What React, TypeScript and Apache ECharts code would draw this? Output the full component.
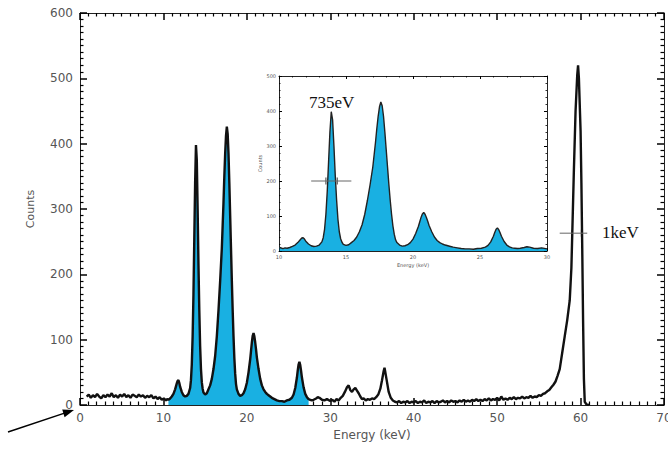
import React, { useEffect, useRef } from "react";
import * as echarts from "echarts";

// Spectrum: [energy keV, counts]
const lowBand: number[][] = [
  [0.8, 13], [1.05, 16], [1.3, 11], [1.55, 15], [1.8, 12], [2.05, 17], [2.3, 13], [2.55, 10], [2.8, 15], [3.05, 12],
  [3.3, 16], [3.55, 13], [3.8, 18], [4.05, 12], [4.3, 15], [4.55, 11], [4.8, 16], [5.05, 13], [5.3, 17], [5.55, 12],
  [5.8, 15], [6.05, 11], [6.3, 16], [6.55, 14], [6.8, 12], [7.05, 16], [7.3, 13], [7.55, 15], [7.8, 11], [8.05, 14],
  [8.3, 12], [8.55, 15], [8.8, 10], [9.05, 13], [9.3, 9], [9.55, 12], [9.8, 8], [10.05, 10], [10.3, 7], [10.45, 9],
];
const peakBand: number[][] = [
  [10.6, 8], [10.8, 10], [11.0, 13], [11.2, 17], [11.4, 24], [11.6, 33], [11.7, 37], [11.8, 38], [11.9, 34], [12.0, 28],
  [12.2, 20], [12.4, 15], [12.6, 13], [12.8, 14], [13.0, 17], [13.2, 26], [13.3, 38], [13.4, 62], [13.5, 105], [13.6, 170],
  [13.7, 255], [13.8, 340], [13.9, 398], [14.0, 375], [14.1, 300], [14.2, 215], [14.3, 145], [14.4, 90], [14.5, 55], [14.6, 35],
  [14.7, 25], [14.8, 19], [15.0, 16], [15.2, 18], [15.4, 24], [15.6, 30], [15.8, 40], [16.0, 55], [16.2, 75], [16.4, 105],
  [16.6, 145], [16.8, 190], [17.0, 240], [17.1, 275], [17.2, 310], [17.3, 350], [17.4, 385], [17.5, 412], [17.6, 426], [17.7, 415],
  [17.8, 385], [17.9, 340], [18.0, 290], [18.1, 240], [18.2, 190], [18.3, 145], [18.4, 105], [18.5, 72], [18.6, 48], [18.7, 32],
  [18.8, 24], [19.0, 17], [19.2, 14], [19.4, 15], [19.6, 18], [19.8, 24], [20.0, 34], [20.2, 50], [20.4, 70], [20.5, 83],
  [20.6, 96], [20.7, 106], [20.8, 110], [20.9, 105], [21.0, 96], [21.1, 85], [21.2, 73], [21.4, 55], [21.6, 40], [21.8, 30],
  [22.0, 24], [22.2, 20], [22.4, 17], [22.6, 15], [22.8, 13], [23.0, 11], [23.3, 9], [23.6, 7], [23.9, 6], [24.2, 6],
  [24.5, 5], [24.8, 7], [25.1, 8], [25.4, 11], [25.6, 16], [25.8, 26], [26.0, 42], [26.1, 53], [26.2, 62], [26.3, 66],
  [26.4, 61], [26.5, 52], [26.6, 42], [26.8, 27], [27.0, 17], [27.2, 12], [27.4, 9], [27.6, 8], [27.8, 7], [28.0, 8],
  [28.3, 10], [28.5, 12], [28.7, 11], [29.0, 8], [29.3, 7], [29.6, 9], [30.0, 6],
];
const highBand: number[][] = [
  [30.25, 8], [30.5, 5], [30.75, 9], [31.0, 7], [31.25, 11], [31.5, 14], [31.75, 20], [32.0, 27], [32.2, 30], [32.4, 23],
  [32.6, 20], [32.8, 24], [33.0, 26], [33.2, 22], [33.4, 18], [33.6, 13], [33.8, 9], [34.0, 10], [34.25, 7], [34.5, 9],
  [34.75, 8], [35.0, 10], [35.25, 9], [35.5, 12], [35.75, 16], [36.0, 25], [36.2, 38], [36.4, 52], [36.5, 57], [36.6, 50],
  [36.8, 35], [37.0, 20], [37.25, 11], [37.5, 7], [37.75, 5], [38.0, 4], [38.25, 6], [38.5, 3], [38.75, 5], [39.0, 4],
  [39.25, 6], [39.5, 3], [39.75, 5], [40.0, 4], [40.25, 6], [40.5, 3], [40.75, 5], [41.0, 4], [41.25, 7], [41.5, 3],
  [41.75, 5], [42.0, 4], [42.25, 6], [42.5, 3], [42.75, 6], [43.0, 4], [43.25, 5], [43.5, 7], [43.75, 4], [44.0, 6],
  [44.25, 4], [44.5, 7], [44.75, 5], [45.0, 6], [45.25, 4], [45.5, 7], [45.75, 5], [46.0, 8], [46.25, 5], [46.5, 7],
  [46.75, 5], [47.0, 8], [47.25, 6], [47.5, 9], [47.75, 6], [48.0, 8], [48.25, 6], [48.5, 9], [48.75, 7], [49.0, 10],
  [49.25, 7], [49.5, 9], [49.75, 8], [50.0, 11], [50.25, 7], [50.5, 13], [50.75, 8], [51.0, 10], [51.25, 8], [51.5, 11],
  [51.75, 9], [52.0, 12], [52.25, 9], [52.5, 11], [52.75, 10], [53.0, 13], [53.25, 10], [53.5, 12], [53.75, 11], [54.0, 14],
  [54.25, 11], [54.5, 13], [54.75, 12], [55.0, 15], [55.25, 14], [55.5, 17], [55.75, 18], [56.0, 21], [56.25, 23], [56.5, 27],
  [56.75, 31], [57.0, 36], [57.25, 45], [57.5, 55], [57.8, 80], [58.1, 105], [58.4, 130], [58.7, 160], [58.9, 210], [59.0, 260],
  [59.2, 360], [59.4, 450], [59.6, 505], [59.7, 520], [59.8, 500], [60.0, 420], [60.1, 340], [60.2, 240], [60.3, 130], [60.4, 40],
  [60.5, 5], [60.7, 1], [61.0, 0],
];

const xTicks = { min: 0, max: 70, interval: 10 };
const yTicks = { min: 0, max: 600, interval: 100 };
const insetX = { min: 10, max: 30, interval: 5 };
const insetY = { min: 0, max: 500, interval: 100 };

const mainFillRange = [10.6, 27.4];
const insetBar: number[][] = [[12.4, 200], [15.4, 200]];
const insetBarTicks: number[][] = [[13.5, 200], [14.35, 200]];
const mainBar: number[][] = [[57.5, 263], [60.8, 263]];
const mainBarTicks: number[][] = [[59.0, 263], [60.1, 263]];

const BLUE = "#19b0e2";

export default function App() {
  const ref = useRef<HTMLDivElement>(null);
  useEffect(() => {
    if (!ref.current) return;
    const chart = echarts.init(ref.current, null, { renderer: "svg" });
    const spectrum = [...lowBand, ...peakBand, ...highBand];
    const mainFill = spectrum.filter((p) => p[0] >= mainFillRange[0] && p[0] <= mainFillRange[1]);
    const insetData = spectrum.filter((p) => p[0] >= insetX.min && p[0] <= insetX.max);

    const lblCol = "#555";
    const mkAxis = (grid: number, r: any, pos: string, show: boolean, big: boolean, isY: boolean, name?: string) => {
      const ax: any = {
        type: "value",
        gridIndex: grid,
        min: r.min,
        max: r.max,
        interval: r.interval,
        position: pos,
        splitLine: { show: false },
        axisLine: { show: true, onZero: false, lineStyle: { color: "#222" } },
        axisTick: { show: true, inside: true, length: big ? 7 : 3, lineStyle: { color: "#000", width: big ? 1.5 : 1 } },
        minorTick: { show: true, splitNumber: big ? 10 : 5, length: big ? 3.5 : 1.5, lineStyle: { color: "#000", width: big ? 1.2 : 0.8 } },
        axisLabel: { show, color: lblCol, fontSize: big ? 12 : 5, margin: big ? 7 : 3, fontFamily: "DejaVu Sans" },
      };
      if (name) {
        ax.name = name;
        ax.nameLocation = "middle";
        ax.nameGap = isY ? (big ? 44 : 13) : (big ? 23 : 11);
        ax.nameTextStyle = { color: lblCol, fontSize: big ? (isY ? 11 : 12) : 5, fontFamily: "DejaVu Sans" };
      }
      return ax;
    };

    const arrowTip = [74, 410];
    chart.setOption({
      animation: false,
      grid: [
        { left: 80, right: 4, top: 13, bottom: 44, outerBoundsMode: "none" },
        { left: 279, right: 121, top: 76, bottom: 198, outerBoundsMode: "none" },
      ],
      xAxis: [
        mkAxis(0, xTicks, "bottom", true, true, false, "Energy (keV)"),
        mkAxis(0, xTicks, "top", false, true, false),
        mkAxis(1, insetX, "bottom", true, false, false, "Energy (keV)"),
        mkAxis(1, insetX, "top", false, false, false),
      ],
      yAxis: [
        mkAxis(0, yTicks, "left", true, true, true, "Counts"),
        mkAxis(0, yTicks, "right", false, true, true),
        mkAxis(1, insetY, "left", true, false, true, "Counts"),
        mkAxis(1, insetY, "right", false, false, true),
      ],
      series: [
        {
          type: "line", xAxisIndex: 0, yAxisIndex: 0, data: mainFill, symbol: "none",
          lineStyle: { width: 0 }, areaStyle: { color: BLUE, opacity: 1 },
        },
        {
          type: "line", xAxisIndex: 0, yAxisIndex: 0, data: spectrum, symbol: "none",
          lineStyle: { color: "#111", width: 2.4 },
        },
        {
          type: "line", xAxisIndex: 2, yAxisIndex: 2, data: insetData, symbol: "none",
          lineStyle: { color: "#222", width: 1.4 }, areaStyle: { color: BLUE, opacity: 1 },
        },
        {
          type: "line", xAxisIndex: 2, yAxisIndex: 2, data: insetBar, symbol: "none",
          lineStyle: { color: "#666", width: 1 },
        },
        {
          type: "scatter", xAxisIndex: 2, yAxisIndex: 2, data: insetBarTicks, symbol: "rect",
          symbolSize: [1.2, 7], itemStyle: { color: "#333" },
        },
        {
          type: "line", xAxisIndex: 0, yAxisIndex: 0, data: mainBar, symbol: "none",
          lineStyle: { color: "#666", width: 1 },
        },
        {
          type: "scatter", xAxisIndex: 0, yAxisIndex: 0, data: mainBarTicks, symbol: "rect",
          symbolSize: [1.2, 7], itemStyle: { color: "#333" },
        },
      ],
      graphic: [
        {
          type: "text", left: 309, top: 94, z: 10,
          style: { text: "735eV", fill: "#111", font: "17px 'Liberation Serif', serif" },
        },
        {
          type: "text", left: 602, top: 224, z: 10,
          style: { text: "1keV", fill: "#111", font: "17px 'Liberation Serif', serif" },
        },
        {
          type: "line", z: 10,
          shape: { x1: 8, y1: 432, x2: 66, y2: 412.6 },
          style: { stroke: "#000", lineWidth: 1.5 },
        },
        {
          type: "polygon", z: 10,
          shape: { points: [arrowTip, [64.6, 417.2], [62.2, 409.6]] },
          style: { fill: "#000" },
        },
      ],
    });
    return () => chart.dispose();
  }, []);
  return <div ref={ref} style={{ position: "absolute", left: 0, top: 0, width: 668, height: 449 }} />;
}
